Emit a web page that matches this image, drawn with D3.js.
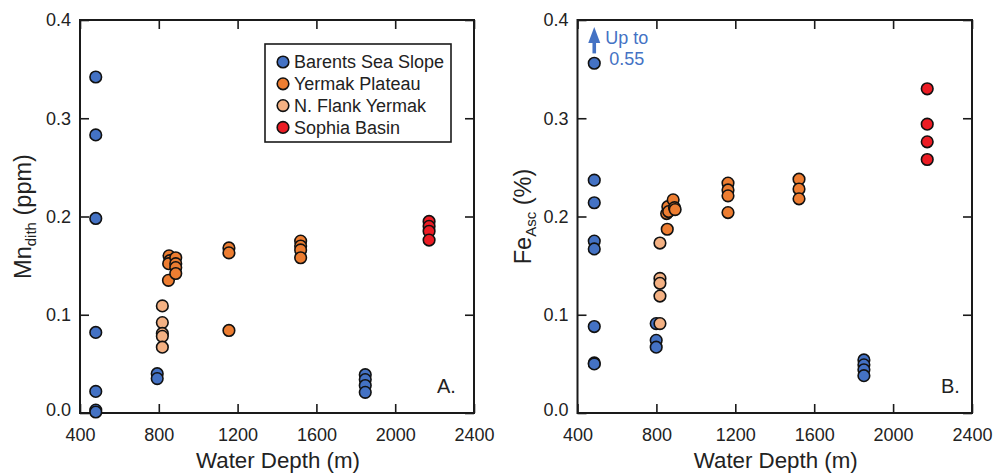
<!DOCTYPE html>
<html><head><meta charset="utf-8">
<script src="https://cdn.jsdelivr.net/npm/d3@7"></script>
<style>
html,body{margin:0;padding:0;background:#fff;}
svg{display:block;font-family:"Liberation Sans",Arial,sans-serif;}
</style></head>
<body><svg id="chart" width="993" height="473"></svg>
<script>
// ---------- data ----------
const seriesNames = ["Barents Sea Slope","Yermak Plateau","N. Flank Yermak","Sophia Basin"];
const seriesColors = ["#4472C4","#ED7D31","#F4B183","#EC1C24"];
const xTicks = [400,800,1200,1600,2000,2400];
const yTicks = [0.0,0.1,0.2,0.3,0.4];

// Panel A: Mn_dith (ppm)
const mnBarentsDepth = [480,480,480,480,480,480,480,792,792,1848,1848,1848,1848];
const mnBarentsValue = [0.342,0.283,0.198,0.082,0.022,0.003,0.001,0.040,0.035,0.039,0.034,0.028,0.021];
const mnYermakDepth  = [852,856,850,849,886,886,886,886,1156,1156,1156,1520,1520,1520,1520];
const mnYermakValue  = [0.160,0.155,0.152,0.135,0.158,0.152,0.148,0.142,0.168,0.163,0.084,0.175,0.170,0.166,0.158];
const mnFlankDepth   = [818,818,818,818,818];
const mnFlankValue   = [0.109,0.092,0.081,0.078,0.067];
const mnSophiaDepth  = [2172,2172,2172,2172];
const mnSophiaValue  = [0.195,0.190,0.185,0.176];

// Panel B: Fe_Asc (%)
const feBarentsDepth = [485,485,485,485,485,485,485,485,799,799,799,1852,1852,1852,1852];
const feBarentsValue = [0.356,0.237,0.214,0.175,0.167,0.088,0.051,0.050,0.091,0.074,0.067,0.054,0.049,0.044,0.038];
const feYermakDepth  = [855,852,858,862,885,892,895,1163,1163,1163,1163,1523,1523,1523];
const feYermakValue  = [0.187,0.203,0.210,0.205,0.217,0.209,0.207,0.234,0.227,0.221,0.204,0.238,0.228,0.218];
const feFlankDepth   = [818,818,818,818,818];
const feFlankValue   = [0.173,0.137,0.132,0.119,0.091];
const feSophiaDepth  = [2173,2173,2173,2173];
const feSophiaValue  = [0.330,0.294,0.276,0.258];

const annotationLines = ["Up to","0.55"];
const annotationFrom = 0.366, annotationTo = 0.393, annotationDepth = 485;

// ---------- drawing ----------
const svg = d3.select("#chart");
const FONT = '"Liberation Sans",Arial,sans-serif';
const frameColor = "#1a1a1a";
const R = 5.8;

function makeSeries(list){
  return list.map(([d,v],i)=>({name:seriesNames[i],color:seriesColors[i],pts:d.map((x,j)=>({x,y:v[j]}))}));
}
const panelA = makeSeries([[mnBarentsDepth,mnBarentsValue],[mnYermakDepth,mnYermakValue],[mnFlankDepth,mnFlankValue],[mnSophiaDepth,mnSophiaValue]]);
const panelB = makeSeries([[feBarentsDepth,feBarentsValue],[feYermakDepth,feYermakValue],[feFlankDepth,feFlankValue],[feSophiaDepth,feSophiaValue]]);

function drawPanel(opts){
  const {x0,x1,y0,y1,series,titleMain,titleSub,titleTail,titleX,tag,tagX} = opts;
  const x = d3.scaleLinear().domain([400,2400]).range([x0,x1]);
  const y = d3.scaleLinear().domain([0,0.4]).range([y0,y1]);
  const g = svg.append("g");

  const tickLen = 9;
  const styleAxis = sel => {
    sel.select(".domain").remove();
    sel.selectAll(".tick line").attr("stroke",frameColor).attr("stroke-width",1.6);
    sel.selectAll("text").attr("font-family",FONT).attr("font-size",18).attr("fill","#222");
  };
  g.append("g").attr("transform",`translate(0,${y0})`)
    .call(d3.axisBottom(x).tickValues(xTicks).tickFormat(d3.format("d")).tickSizeInner(-tickLen).tickSizeOuter(0).tickPadding(15))
    .call(styleAxis);
  g.append("g").attr("transform",`translate(0,${y1})`)
    .call(d3.axisTop(x).tickValues(xTicks).tickFormat("").tickSizeInner(-tickLen).tickSizeOuter(0))
    .call(styleAxis);
  const ya = g.append("g").attr("transform",`translate(${x0},0)`)
    .call(d3.axisLeft(y).tickValues(yTicks).tickFormat(d3.format(".1f")).tickSizeInner(-tickLen).tickSizeOuter(0).tickPadding(9))
    .call(styleAxis);
  ya.selectAll(".tick text").filter(d=>d===0).attr("dy","0.15em");
  g.append("g").attr("transform",`translate(${x1},0)`)
    .call(d3.axisRight(y).tickValues(yTicks).tickFormat("").tickSizeInner(-tickLen).tickSizeOuter(0))
    .call(styleAxis);

  // frame
  g.append("rect").attr("x",x0).attr("y",y1).attr("width",x1-x0).attr("height",y0-y1)
    .attr("fill","none").attr("stroke",frameColor).attr("stroke-width",2);

  // points
  series.forEach(s=>{
    g.append("g").selectAll("circle").data(s.pts).join("circle")
      .attr("cx",d=>x(d.x)).attr("cy",d=>y(d.y)).attr("r",R)
      .attr("fill",s.color).attr("stroke","#111").attr("stroke-width",1.6);
  });

  // x title
  g.append("text").attr("x",(x0+x1)/2+1).attr("y",468).attr("text-anchor","middle")
    .attr("font-size",22.3).attr("fill","#222").text("Water Depth (m)");

  // y title
  const t = g.append("text").attr("transform",`translate(${titleX},${(y0+y1)/2}) rotate(-90)`)
    .attr("text-anchor","middle").attr("font-size",23.5).attr("fill","#222");
  t.append("tspan").text(titleMain);
  t.append("tspan").attr("font-size",15).attr("dy",5).text(titleSub);
  t.append("tspan").attr("dy",-5).text(" "+titleTail);

  // panel tag
  g.append("text").attr("x",tagX).attr("y",393).attr("font-size",20).attr("fill","#222").text(tag);

  return {x,y,g};
}

const A = drawPanel({x0:80,x1:474,y0:413,y1:20,series:panelA,titleMain:"Mn",titleSub:"dith",titleTail:"(ppm)",titleX:31,tag:"A.",tagX:437});
const B = drawPanel({x0:577.5,x1:972,y0:413,y1:20,series:panelB,titleMain:"Fe",titleSub:"Asc",titleTail:"(%)",titleX:531,tag:"B.",tagX:941});

// legend (panel A)
const lg = A.g.append("g");
lg.append("rect").attr("x",265).attr("y",44).attr("width",186).attr("height",98)
  .attr("fill","#fff").attr("stroke",frameColor).attr("stroke-width",1.6);
seriesNames.forEach((n,i)=>{
  const cy = 62 + i*21.8;
  lg.append("circle").attr("cx",283).attr("cy",cy).attr("r",R)
    .attr("fill",seriesColors[i]).attr("stroke","#111").attr("stroke-width",1.6);
  lg.append("text").attr("x",294).attr("y",cy).attr("dy","0.36em").attr("font-size",18).attr("fill","#222").text(n);
});

// annotation (panel B)
const ax = B.x(annotationDepth);
const ayFrom = B.y(annotationFrom), ayTo = B.y(annotationTo);
B.g.append("line").attr("x1",ax).attr("x2",ax).attr("y1",ayFrom).attr("y2",ayTo+14)
  .attr("stroke","#4472C4").attr("stroke-width",3.6);
B.g.append("path").attr("d",`M${ax},${ayTo} L${ax-6},${ayTo+16} L${ax+6},${ayTo+16} Z`).attr("fill","#4472C4");
B.g.append("text").attr("x",ax+11).attr("y",44).attr("font-size",18).attr("fill","#4472C4").text(annotationLines[0]);
B.g.append("text").attr("x",ax+15).attr("y",65).attr("font-size",18).attr("fill","#4472C4").text(annotationLines[1]);
</script></body></html>
